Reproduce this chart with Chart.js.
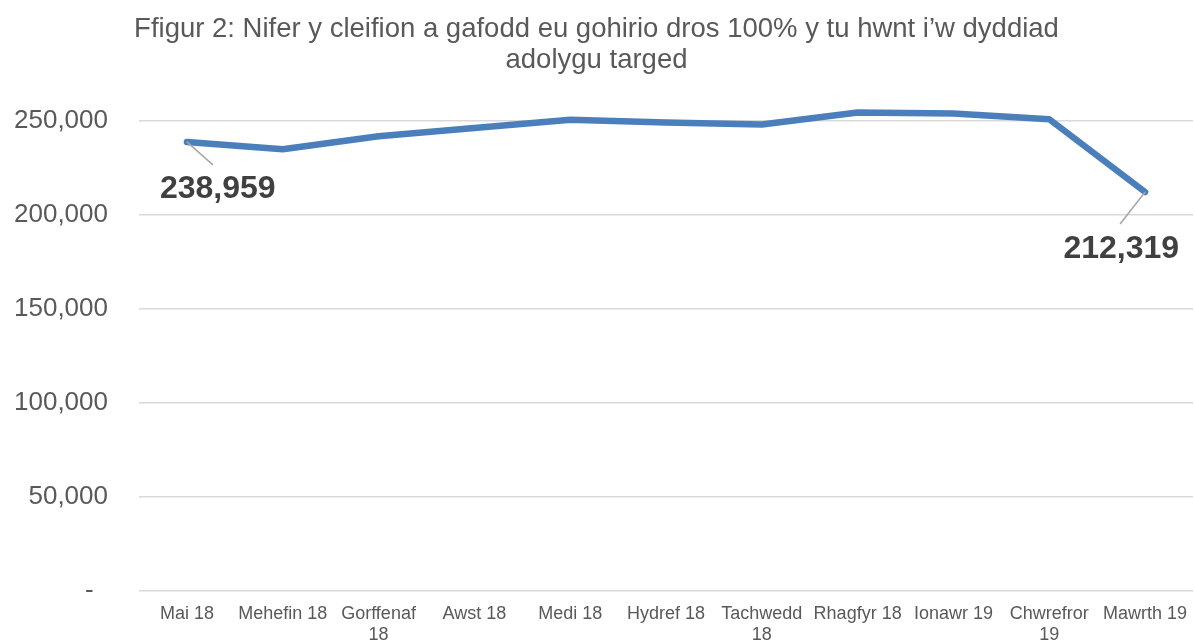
<!DOCTYPE html>
<html>
<head>
<meta charset="utf-8">
<script src="https://cdn.jsdelivr.net/npm/chart.js@4.4.1/dist/chart.umd.min.js"></script>
<style>
  html, body { margin: 0; padding: 0; background: #fff; }
  #wrap { width: 1195px; height: 643px; position: relative; }
</style>
</head>
<body>
<div id="wrap"><canvas id="myChart"></canvas></div>
<script>
// data
const months = [
  "Mai 18", "Mehefin 18", ["Gorffenaf", "18"], "Awst 18", "Medi 18", "Hydref 18",
  ["Tachwedd", "18"], "Rhagfyr 18", "Ionawr 19", ["Chwrefror", "19"], "Mawrth 19"
];
const patients = [238959, 235000, 242000, 246400, 250800, 249300, 248200, 254600, 254100, 251000, 212319];
const yTicks = [0, 50000, 100000, 150000, 200000, 250000];
const titleLines = ["Ffigur 2: Nifer y cleifion a gafodd eu gohirio dros 100% y tu hwnt i\u2019w dyddiad", "adolygu targed"];

const FONT = "'Liberation Sans', Arial, sans-serif";

// only first and last points carry a label
const endLabels = {
  id: "endLabels",
  afterDatasetsDraw(chart) {
    const ctx = chart.ctx;
    const pts = chart.getDatasetMeta(0).data;
    ctx.save();
    ctx.font = "bold 32px " + FONT;
    ctx.textBaseline = "middle";
    ctx.fillStyle = "#404040";
    ctx.strokeStyle = "#a6a6a6";
    ctx.lineWidth = 1.5;

    const first = pts[0];
    ctx.beginPath();
    ctx.moveTo(first.x, first.y);
    ctx.lineTo(first.x + 26, first.y + 23);
    ctx.stroke();
    ctx.textAlign = "left";
    ctx.fillText(patients[0].toLocaleString("en-GB"), first.x - 27, first.y + 47);

    const last = pts[pts.length - 1];
    ctx.beginPath();
    ctx.moveTo(last.x, last.y);
    ctx.lineTo(last.x - 25, last.y + 32);
    ctx.stroke();
    ctx.textAlign = "right";
    ctx.fillText(patients[patients.length - 1].toLocaleString("en-GB"), last.x + 34, last.y + 57);
    ctx.restore();
  }
};

new Chart(document.getElementById("myChart").getContext("2d"), {
  type: "line",
  data: {
    labels: months,
    datasets: [{
      data: patients,
      borderColor: "#4b7fbc",
      borderWidth: 6.5,
      borderCapStyle: "round",
      borderJoinStyle: "round",
      pointRadius: 0,
      tension: 0,
      clip: false
    }]
  },
  options: {
    responsive: true,
    maintainAspectRatio: false,
    animation: false,
    layout: { padding: { left: 0, right: 2, top: 0, bottom: 0 } },
    plugins: {
      legend: { display: false },
      tooltip: { enabled: false },
      title: {
        display: true,
        text: titleLines,
        color: "#595959",
        font: { family: FONT, size: 27.5, weight: "normal", lineHeight: 1.13 },
        padding: { top: 14, bottom: 45 }
      }
    },
    scales: {
      x: {
        offset: true,
        grid: { display: false },
        border: { display: false },
        afterFit(axis) { axis.height = 52; },
        ticks: {
          color: "#595959",
          font: { family: FONT, size: 18, lineHeight: 1.2 },
          maxRotation: 0,
          autoSkip: false,
          padding: 4
        }
      },
      y: {
        min: 0,
        max: 250000,
        afterBuildTicks(axis) { axis.ticks = yTicks.map(v => ({ value: v })); },
        afterFit(axis) { axis.width = 139; },
        grid: { color: "#d9d9d9", lineWidth: 1.5, drawTicks: false },
        border: { display: false },
        ticks: {
          color: "#595959",
          padding: 31,
          font: { family: FONT, size: 26 },
          callback: v => v === 0 ? "-  " : v.toLocaleString("en-GB")
        }
      }
    }
  },
  plugins: [endLabels]
});
</script>
</body>
</html>
